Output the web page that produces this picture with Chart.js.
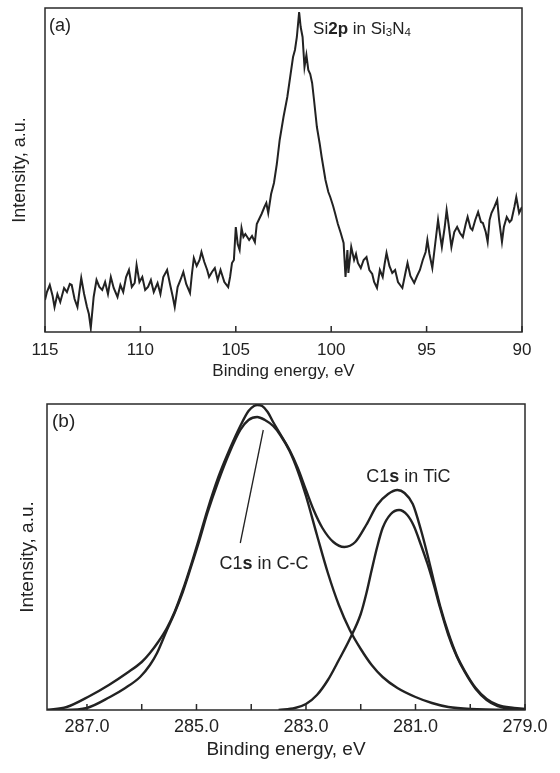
<!DOCTYPE html>
<html>
<head>
<meta charset="utf-8">
<script src="https://cdn.jsdelivr.net/npm/chart.js@4"></script>
<style>
  body { margin: 0; background: #fff; }
  #wrap { position: relative; width: 560px; height: 773px; }
  canvas { position: absolute; left: 0; }
</style>
</head>
<body>
<div id="wrap">
  <canvas id="chart-a" width="560" height="390" style="top:0"></canvas>
  <canvas id="chart-b" width="560" height="383" style="top:390px"></canvas>
</div>
<script>
// (a) Si2p spectrum - binding energy (eV) and intensity (a.u.)
const siEnergy = [115.0, 114.9, 114.75, 114.6, 114.5, 114.35, 114.2, 114.0, 113.85, 113.7, 113.6, 113.45, 113.3, 113.2, 113.1, 112.95, 112.8, 112.7, 112.6, 112.45,
  112.3, 112.15, 112.0, 111.85, 111.7, 111.55, 111.4, 111.2, 111.05, 110.9, 110.75, 110.6, 110.45, 110.3, 110.2, 110.05, 109.9, 109.75, 109.6, 109.45,
  109.3, 109.1, 108.95, 108.8, 108.6, 108.45, 108.3, 108.2, 108.05, 107.9, 107.75, 107.6, 107.4, 107.3, 107.2, 107.05, 106.9, 106.8, 106.65, 106.5,
  106.4, 106.25, 106.1, 105.95, 105.8, 105.6, 105.4, 105.3, 105.2, 105.1, 105.0, 104.9, 104.8, 104.7, 104.6, 104.5, 104.3, 104.15, 104.0, 103.9,
  103.8, 103.65, 103.5, 103.4, 103.3, 103.15, 103.0, 102.85, 102.7, 102.5, 102.3, 102.15, 102.0, 101.9, 101.8, 101.68, 101.6, 101.5, 101.4, 101.3,
  101.2, 101.1, 101.0, 100.9, 100.75, 100.6, 100.5, 100.3, 100.15, 100.05, 99.9, 99.8, 99.65, 99.5, 99.35, 99.25, 99.15, 99.1, 98.95, 98.8,
  98.7, 98.6, 98.45, 98.3, 98.15, 98.0, 97.85, 97.75, 97.6, 97.45, 97.3, 97.2, 97.1, 96.95, 96.8, 96.65, 96.5, 96.35, 96.27, 96.1,
  96.0, 95.85, 95.65, 95.5, 95.35, 95.2, 95.05, 94.96, 94.85, 94.7, 94.55, 94.4, 94.3, 94.2, 94.05, 93.95, 93.85, 93.7, 93.55, 93.4,
  93.25, 93.1, 92.95, 92.85, 92.7, 92.6, 92.45, 92.3, 92.15, 92.05, 91.9, 91.8, 91.7, 91.6, 91.45, 91.3, 91.2, 91.05, 90.95, 90.8,
  90.65, 90.55, 90.4, 90.3, 90.15, 90.0];
const siIntensity = [32, 40, 47, 36, 25, 38, 30, 44, 40, 48, 47, 33, 25, 40, 54, 38, 25, 18, 4, 35,
  52, 45, 42, 50, 38, 55, 44, 35, 47, 40, 55, 62, 45, 49, 67, 50, 55, 42, 45, 52,
  40, 49, 38, 55, 62, 48, 35, 25, 45, 52, 60, 48, 39, 58, 74, 66, 72, 80, 70, 62,
  55, 60, 64, 52, 62, 50, 45, 55, 69, 72, 105, 88, 82, 104, 95, 98, 92, 96, 90, 108,
  112, 118, 125, 129, 119, 138, 149, 168, 192, 215, 235, 255, 275, 282, 295, 320, 305, 295, 265, 277,
  262, 258, 249, 232, 205, 188, 175, 152, 140, 135, 126, 119, 108, 99, 89, 55, 82, 59, 85, 72,
  78, 69, 64, 72, 75, 62, 58, 50, 44, 62, 55, 68, 79, 66, 59, 62, 50, 46, 44, 60,
  69, 56, 49, 56, 62, 72, 80, 92, 78, 64, 88, 112, 98, 85, 105, 122, 108, 85, 100, 105,
  99, 95, 108, 115, 104, 102, 112, 120, 110, 109, 100, 90, 112, 119, 125, 132, 112, 90, 105, 115,
  110, 112, 125, 135, 119, 125];
const siTicks = [115, 110, 105, 100, 95, 90];

// (b) C1s spectrum: envelope, C-C component, TiC component
const envEnergy = [287.73, 287.37, 286.95, 286.6, 286.27, 286.0, 285.85, 285.7, 285.54, 285.4, 285.25, 285.1, 284.95, 284.8, 284.6, 284.4, 284.2, 284.05, 283.95, 283.89,
  283.8, 283.7, 283.6, 283.47, 283.3, 283.15, 283.0, 282.86, 282.7, 282.5, 282.3, 282.1, 281.9, 281.7, 281.5, 281.33, 281.2, 281.05, 280.9, 280.78,
  280.67, 280.55, 280.4, 280.25, 280.1, 279.9, 279.7, 279.5, 279.2, 279.0];
const envIntensity = [0, 3, 14, 25, 37, 48, 57, 68, 82, 98, 120, 145, 172, 200, 233, 260, 284, 299, 304, 305,
  304, 298, 288, 276, 260, 242, 220, 200, 182, 168, 163, 168, 185, 205, 216, 220, 217, 206, 180, 155,
  130, 104, 77, 55, 39, 22, 11, 5, 2, 1];
const ccEnergy = [287.73, 287.4, 287.0, 286.58, 286.3, 286.03, 285.85, 285.72, 285.54, 285.4, 285.25, 285.1, 284.95, 284.8, 284.6, 284.4, 284.2, 284.05, 283.89, 283.75,
  283.6, 283.47, 283.3, 283.15, 283.0, 282.8, 282.6, 282.4, 282.2, 282.0, 281.8, 281.6, 281.33, 281.0, 280.7, 280.4, 280.0, 279.0];
const ccIntensity = [0, 0, 2, 13, 22, 33, 45, 57, 80, 97, 118, 143, 169, 197, 229, 257, 280, 290, 293, 290,
  284, 275, 259, 239, 214, 175, 137, 105, 80, 61, 45, 33, 22, 13, 7, 3, 1, 0];
const ticEnergy = [283.5, 283.2, 283.0, 282.8, 282.6, 282.4, 282.2, 282.0, 281.9, 281.8, 281.7, 281.6, 281.45, 281.3, 281.15, 281.03, 280.9, 280.78, 280.67, 280.55,
  280.4, 280.25, 280.1, 279.9, 279.7, 279.5, 279.2, 279.0];
const ticIntensity = [0, 2, 6, 15, 30, 50, 71, 96, 116, 140, 163, 182, 196, 200, 195, 184, 165, 146, 126, 102,
  75, 54, 38, 21, 10, 4, 1, 1];
const cTicks = [287, 286, 285, 284, 283, 282, 281, 280, 279];

const FONT = '"Liberation Sans", Arial, sans-serif';
const INK = '#222';

const toPoints = (xs, ys) => xs.map((x, i) => ({x: x, y: ys[i]}));

// frame around the plot area + ticks pointing inward
const framePlugin = {
  id: 'frame',
  afterDraw(chart) {
    const {ctx, chartArea: a, scales: {x}} = chart;
    ctx.save();
    ctx.strokeStyle = '#2a2a2a';
    ctx.lineWidth = 1.5;
    ctx.strokeRect(a.left, a.top, a.right - a.left, a.bottom - a.top);
    ctx.beginPath();
    x.ticks.forEach(t => {
      const px = x.getPixelForValue(t.value);
      ctx.moveTo(px, a.bottom);
      ctx.lineTo(px, a.bottom - 6);
    });
    ctx.stroke();
    ctx.restore();
  }
};

// draw text made of runs (bold parts, subscripts)
function drawRuns(ctx, x, y, size, runs) {
  ctx.textBaseline = 'middle';
  ctx.textAlign = 'left';
  runs.forEach(r => {
    const s = r.sub ? size * 0.68 : size;
    ctx.font = (r.bold ? 'bold ' : '') + s + 'px ' + FONT;
    ctx.fillText(r.t, x, r.sub ? y + size * 0.22 : y);
    x += ctx.measureText(r.t).width;
  });
}

const labelsA = {
  id: 'labelsA',
  afterDraw(chart) {
    const {ctx, scales: {x, y}} = chart;
    ctx.save();
    ctx.fillStyle = INK;
    drawRuns(ctx, 49, 26, 18, [{t: '(a)'}]);
    drawRuns(ctx, x.getPixelForValue(100.95), y.getPixelForValue(303), 17,
      [{t: 'Si'}, {t: '2p', bold: true}, {t: ' in Si'}, {t: '3', sub: true}, {t: 'N'}, {t: '4', sub: true}]);
    ctx.restore();
  }
};

const labelsB = {
  id: 'labelsB',
  afterDraw(chart) {
    const {ctx, scales: {x, y}} = chart;
    ctx.save();
    ctx.fillStyle = INK;
    drawRuns(ctx, 52, 32, 19, [{t: '(b)'}]);
    drawRuns(ctx, x.getPixelForValue(281.9), y.getPixelForValue(233), 18,
      [{t: 'C1'}, {t: 's', bold: true}, {t: ' in TiC'}]);
    drawRuns(ctx, x.getPixelForValue(284.58), y.getPixelForValue(146), 18,
      [{t: 'C1'}, {t: 's', bold: true}, {t: ' in C-C'}]);
    // leader line to the C-C peak
    ctx.strokeStyle = INK;
    ctx.lineWidth = 1.3;
    ctx.beginPath();
    ctx.moveTo(x.getPixelForValue(283.78), y.getPixelForValue(280));
    ctx.lineTo(x.getPixelForValue(284.2), y.getPixelForValue(167));
    ctx.stroke();
    ctx.restore();
  }
};

function axisOpts(o) {
  return {
    x: {
      type: 'linear', reverse: true, min: o.min, max: o.max,
      afterBuildTicks: s => { s.ticks = o.ticks.map(v => ({value: v})); },
      afterFit: s => { s.height = o.xh; },
      grid: {display: false, drawTicks: false},
      border: {display: false},
      ticks: {
        padding: o.tp, autoSkip: false, maxRotation: 0, color: INK,
        font: {family: FONT, size: o.tick},
        callback: o.fmt
      },
      title: {display: true, text: 'Binding energy, eV', color: INK,
        font: {family: FONT, size: o.title}, padding: {top: 0, bottom: o.xtb}}
    },
    y: {
      min: 0, max: o.ymax,
      afterFit: s => { s.width = o.yw; },
      grid: {display: false, drawTicks: false},
      border: {display: false},
      ticks: {display: false},
      title: {display: true, text: 'Intensity, a.u.', color: INK,
        font: {family: FONT, size: o.ytitle}, padding: {top: o.ytp, bottom: 0}}
    }
  };
}

const common = {
  responsive: false,
  animation: false,
  plugins: {legend: {display: false}, tooltip: {enabled: false}},
  elements: {point: {radius: 0}}
};

new Chart(document.getElementById('chart-a'), {
  type: 'line',
  data: {
    datasets: [{
      data: toPoints(siEnergy, siIntensity),
      borderColor: INK, borderWidth: 2, tension: 0
    }]
  },
  options: Object.assign({}, common, {
    layout: {padding: {left: 0, top: 8, right: 38, bottom: 0}},
    scales: axisOpts({min: 90, max: 115, ticks: siTicks, xh: 58, tp: 8, tick: 17, title: 17, xtb: 8,
      ymax: 324, yw: 45, ytitle: 18, ytp: 9, fmt: v => String(v)})
  }),
  plugins: [framePlugin, labelsA]
});

const smooth = {borderColor: INK, borderWidth: 2.4, cubicInterpolationMode: 'monotone'};

new Chart(document.getElementById('chart-b'), {
  type: 'line',
  data: {
    datasets: [
      Object.assign({data: toPoints(envEnergy, envIntensity)}, smooth),
      Object.assign({data: toPoints(ccEnergy, ccIntensity)}, smooth),
      Object.assign({data: toPoints(ticEnergy, ticIntensity)}, smooth)
    ]
  },
  options: Object.assign({}, common, {
    layout: {padding: {left: 0, top: 14, right: 35, bottom: 0}},
    scales: axisOpts({min: 279, max: 287.73, ticks: cTicks, xh: 63, tp: 6, tick: 18, title: 19, xtb: 12,
      ymax: 306, yw: 47, ytitle: 19, ytp: 16, fmt: v => (v % 2 === 1 ? v.toFixed(1) : '')})
  }),
  plugins: [framePlugin, labelsB]
});
</script>
</body>
</html>
